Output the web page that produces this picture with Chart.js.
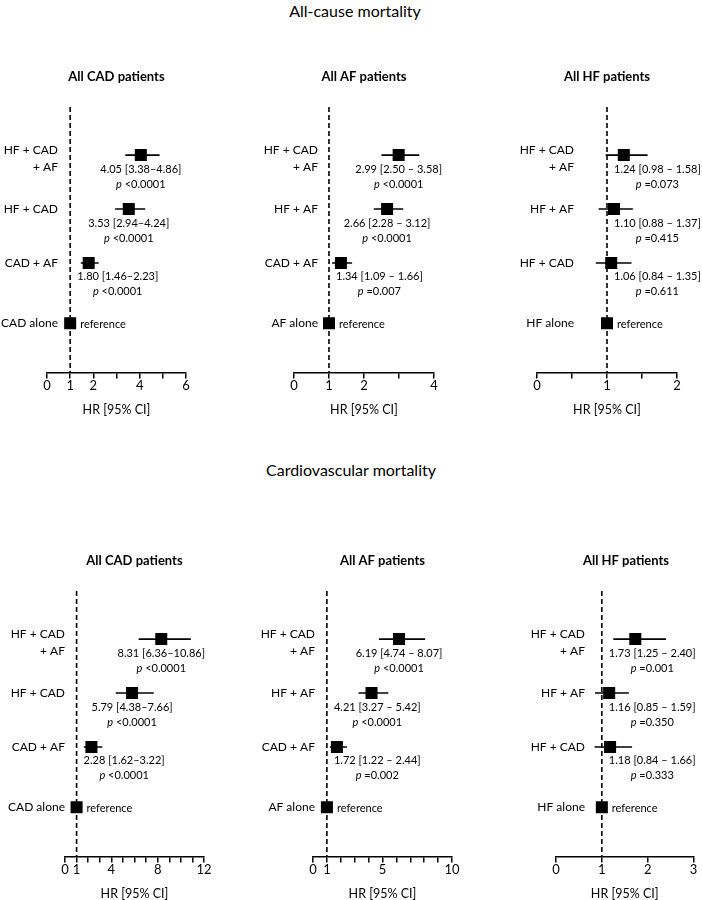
<!DOCTYPE html>
<html>
<head>
<meta charset="utf-8">
<script src="https://cdn.jsdelivr.net/npm/chart.js@4"></script>
<style>
  body { margin: 0; width: 702px; height: 900px; overflow: hidden; background: #fff; position: relative; font-family: Lato, sans-serif; }
  .main-title { position: absolute; width: 702px; text-align: center; font-size: 16px; color: #000; }
  .panel { position: absolute; width: 234px; height: 370px; }
</style>
</head>
<body>
<div class="main-title" id="titleTop" style="top:1px;left:4px"></div>
<div class="main-title" id="titleBottom" style="top:460px;left:0"></div>
<div class="panel" style="left:0;top:60px"><canvas id="p1" width="234" height="370"></canvas></div>
<div class="panel" style="left:234px;top:60px"><canvas id="p2" width="234" height="370"></canvas></div>
<div class="panel" style="left:468px;top:60px"><canvas id="p3" width="234" height="370"></canvas></div>
<div class="panel" style="left:0;top:544px"><canvas id="p4" width="234" height="370"></canvas></div>
<div class="panel" style="left:234px;top:544px"><canvas id="p5" width="234" height="370"></canvas></div>
<div class="panel" style="left:468px;top:544px"><canvas id="p6" width="234" height="370"></canvas></div>
<script>
// titles
const topTitle = 'All-cause mortality';
const bottomTitle = 'Cardiovascular mortality';
const panelTitles = ['All CAD patients', 'All AF patients', 'All HF patients'];

// groups (top row first, reference last)
const cadGroups = ['HF + CAD\n+ AF', 'HF + CAD', 'CAD + AF', 'CAD alone'];
const afGroups = ['HF + CAD\n+ AF', 'HF + AF', 'CAD + AF', 'AF alone'];
const hfGroups = ['HF + CAD\n+ AF', 'HF + AF', 'HF + CAD', 'HF alone'];

// all-cause mortality
const acCadHr = [4.05, 3.53, 1.80, 1];
const acCadLo = [3.38, 2.94, 1.46];
const acCadHi = [4.86, 4.24, 2.23];
const acCadP = ['<0.0001', '<0.0001', '<0.0001'];

const acAfHr = [2.99, 2.66, 1.34, 1];
const acAfLo = [2.50, 2.28, 1.09];
const acAfHi = [3.58, 3.12, 1.66];
const acAfP = ['<0.0001', '<0.0001', '=0.007'];

const acHfHr = [1.24, 1.10, 1.06, 1];
const acHfLo = [0.98, 0.88, 0.84];
const acHfHi = [1.58, 1.37, 1.35];
const acHfP = ['=0.073', '=0.415', '=0.611'];

// cardiovascular mortality
const cvCadHr = [8.31, 5.79, 2.28, 1];
const cvCadLo = [6.36, 4.38, 1.62];
const cvCadHi = [10.86, 7.66, 3.22];
const cvCadP = ['<0.0001', '<0.0001', '<0.0001'];

const cvAfHr = [6.19, 4.21, 1.72, 1];
const cvAfLo = [4.74, 3.27, 1.22];
const cvAfHi = [8.07, 5.42, 2.44];
const cvAfP = ['<0.0001', '<0.0001', '=0.002'];

const cvHfHr = [1.73, 1.16, 1.18, 1];
const cvHfLo = [1.25, 0.85, 0.84];
const cvHfHi = [2.40, 1.59, 1.66];
const cvHfP = ['=0.001', '=0.350', '=0.333'];

// axis ticks
const ticksCad6 = [0, 1, 2, 3, 4, 5, 6];
const labelsCad6 = [0, 1, 2, 4, 6];
const ticksAf4 = [0, 1, 2, 3, 4];
const labelsAf4 = [0, 1, 2, 4];
const ticksHf2 = [0, 0.5, 1, 1.5, 2];
const labelsHf2 = [0, 1, 2];
const ticksCad12 = [0, 1, 2, 3, 4, 5, 6, 7, 8, 9, 10, 11, 12];
const labelsCad12 = [0, 1, 4, 8, 12];
const ticksAf10 = [0, 1, 2, 3, 4, 5, 6, 7, 8, 9, 10];
const labelsAf10 = [0, 1, 5, 10];
const ticksHf3 = [0, 1, 2, 3];
const labelsHf3 = [0, 1, 2, 3];

const refText = 'reference';
const axisTitle = 'HR [95% CI]';

document.getElementById('titleTop').textContent = topTitle;
document.getElementById('titleBottom').textContent = bottomTitle;

// layout
const rowPos = [0, 1, 2, 3.12];
const yMin = -0.89, yMax = 4.03;
const FONT = 'Lato, sans-serif';

const forestText = {
  id: 'forestText',
  afterDatasetsDraw(chart, args, opts) {
    const ctx = chart.ctx;
    const xs = chart.scales.x, ys = chart.scales.y;
    const refX = xs.getPixelForValue(1);
    ctx.save();
    ctx.fillStyle = '#000';
    ctx.textBaseline = 'middle';
    opts.groups.forEach((g, i) => {
      const y = ys.getPixelForValue(rowPos[i]);
      // row label
      ctx.font = '12px ' + FONT;
      ctx.textAlign = 'right';
      const lines = g.split('\n');
      if (lines.length > 1) {
        ctx.fillText(lines[0], opts.labelRight, y - 5);
        ctx.fillText(lines[1], opts.labelRight, y + 12);
      } else {
        ctx.fillText(lines[0], opts.labelRight, y);
      }
      const mx = xs.getPixelForValue(opts.hr[i]);
      ctx.textAlign = 'left';
      ctx.font = '11px ' + FONT;
      if (i >= opts.lo.length) {
        ctx.fillText(refText, mx + 10, y + 1);
        return;
      }
      const t1 = opts.hr[i].toFixed(2) + ' [' + opts.lo[i].toFixed(2) + opts.sep + opts.hi[i].toFixed(2) + ']';
      const w1 = ctx.measureText(t1).width;
      const left = Math.max(mx - w1 / 2, refX + 7);
      ctx.fillText(t1, left, y + 14);
      // p value line, italic p
      const rest = ' ' + opts.p[i];
      ctx.font = 'italic 11px ' + FONT;
      const wp = ctx.measureText('p').width;
      ctx.font = '11px ' + FONT;
      const wr = ctx.measureText(rest).width;
      const start = left + w1 / 2 - (wp + wr) / 2;
      ctx.font = 'italic 11px ' + FONT;
      ctx.fillText('p', start, y + 29);
      ctx.font = '11px ' + FONT;
      ctx.fillText(rest, start + wp, y + 29);
    });
    ctx.restore();
  }
};

function makePanel(id, cfg) {
  const datasets = [];
  datasets.push({
    type: 'line',
    data: [{ x: 1, y: yMin }, { x: 1, y: yMax }],
    borderColor: '#000',
    borderWidth: 1.6,
    borderDash: [5, 3],
    pointRadius: 0,
  });
  cfg.lo.forEach((lo, i) => {
    datasets.push({
      type: 'line',
      data: [{ x: lo, y: rowPos[i] }, { x: cfg.hi[i], y: rowPos[i] }],
      borderColor: '#000',
      borderWidth: 1.6,
      pointRadius: 0,
    });
  });
  datasets.push({
    type: 'scatter',
    data: cfg.hr.map((v, i) => ({ x: v, y: rowPos[i] })),
    pointStyle: 'rect',
    pointRadius: 8.5,
    backgroundColor: '#000',
    borderWidth: 0,
  });

  return new Chart(document.getElementById(id), {
    type: 'scatter',
    data: { datasets },
    plugins: [forestText],
    options: {
      responsive: false,
      animation: false,
      devicePixelRatio: 1,
      layout: { padding: { left: cfg.padLeft, right: cfg.padRight, top: 0, bottom: 9 } },
      plugins: {
        legend: { display: false },
        tooltip: { enabled: false },
        title: {
          display: true,
          text: cfg.title,
          color: '#000',
          font: { family: FONT, size: 13, weight: 'bold' },
          padding: { top: 9.5, bottom: 22 },
        },
        forestText: cfg,
      },
      scales: {
        x: {
          type: 'linear',
          min: 0,
          max: cfg.ticks[cfg.ticks.length - 1],
          afterBuildTicks: (scale) => {
            scale.ticks = cfg.ticks.map((v) => ({ value: v }));
          },
          grid: { drawOnChartArea: false, drawTicks: true, tickLength: 6, color: '#000', lineWidth: 1.5 },
          border: { display: true, color: '#000', width: 1.5 },
          ticks: {
            color: '#000',
            padding: 0,
            autoSkip: false,
            maxRotation: 0,
            font: { family: FONT, size: 13 },
            callback: (v) => (cfg.tickLabels.includes(v) ? String(v) : ''),
          },
          title: {
            display: true,
            text: axisTitle,
            color: '#000',
            font: { family: FONT, size: 12.5 },
            padding: { top: 8, bottom: 4 },
          },
        },
        y: { type: 'linear', display: false, min: yMin, max: yMax, reverse: true },
      },
    },
  });
}

makePanel('p1', { title: panelTitles[0], groups: cadGroups, hr: acCadHr, lo: acCadLo, hi: acCadHi, p: acCadP, sep: '–', ticks: ticksCad6, tickLabels: labelsCad6, padLeft: 47, padRight: 48, labelRight: 58 });
makePanel('p2', { title: panelTitles[1], groups: afGroups, hr: acAfHr, lo: acAfLo, hi: acAfHi, p: acAfP, sep: ' – ', ticks: ticksAf4, tickLabels: labelsAf4, padLeft: 60, padRight: 34, labelRight: 84 });
makePanel('p3', { title: panelTitles[2], groups: hfGroups, hr: acHfHr, lo: acHfLo, hi: acHfHi, p: acHfP, sep: ' – ', ticks: ticksHf2, tickLabels: labelsHf2, padLeft: 69, padRight: 25, labelRight: 106 });
makePanel('p4', { title: panelTitles[0], groups: cadGroups, hr: cvCadHr, lo: cvCadLo, hi: cvCadHi, p: cvCadP, sep: '–', ticks: ticksCad12, tickLabels: labelsCad12, padLeft: 65, padRight: 30, labelRight: 65 });
makePanel('p5', { title: panelTitles[1], groups: afGroups, hr: cvAfHr, lo: cvAfLo, hi: cvAfHi, p: cvAfP, sep: ' – ', ticks: ticksAf10, tickLabels: labelsAf10, padLeft: 79, padRight: 16, labelRight: 81 });
makePanel('p6', { title: panelTitles[2], groups: hfGroups, hr: cvHfHr, lo: cvHfLo, hi: cvHfHi, p: cvHfP, sep: ' – ', ticks: ticksHf3, tickLabels: labelsHf3, padLeft: 88, padRight: 6, labelRight: 117 });
</script>
</body>
</html>
